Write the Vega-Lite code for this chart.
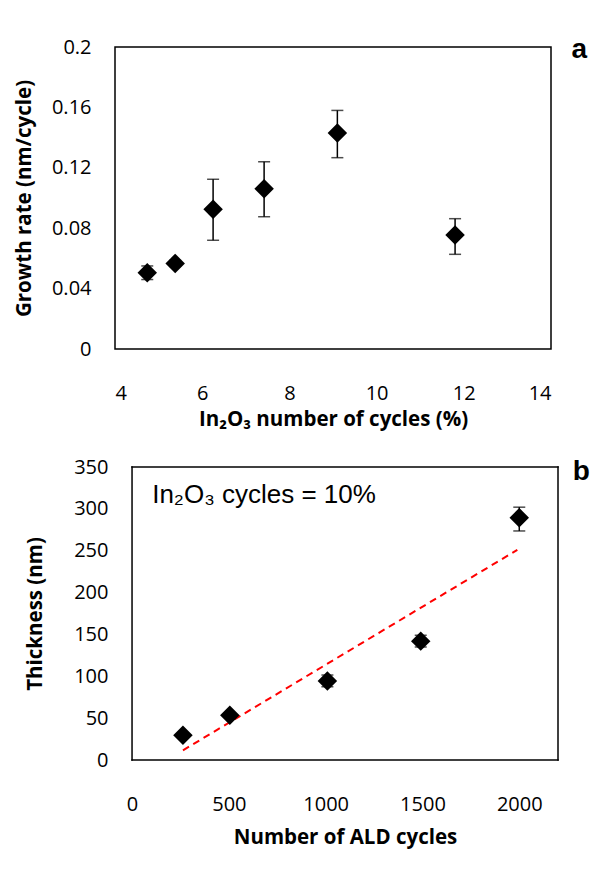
{
  "$schema": "https://vega.github.io/schema/vega-lite/v6.json",
  "background": "white",
  "padding": {"left": 13, "top": 34, "right": 5, "bottom": 5},
  "spacing": 26,
  "config": {
    "view": {"stroke": "#000", "strokeWidth": 1.5},
    "axis": {
      "grid": false, "ticks": false, "tickSize": 0, "domain": false,
      "labelFont": "Open Sans", "labelFontSize": 20, "labelColor": "#000",
      "titleFont": "Open Sans", "titleFontSize": 20.5, "titleFontWeight": "bold", "titleColor": "#000"
    }
  },
  "vconcat": [
    {
      "width": 436,
      "height": 302,
      "data": {"values": [
        {"pct": 4.74, "rate": 0.0505, "lo": 0.046, "hi": 0.055},
        {"pct": 5.38, "rate": 0.0567, "lo": 0.0547, "hi": 0.0587},
        {"pct": 6.25, "rate": 0.0925, "lo": 0.072, "hi": 0.1124},
        {"pct": 7.42, "rate": 0.1062, "lo": 0.0876, "hi": 0.124},
        {"pct": 9.10, "rate": 0.143, "lo": 0.1267, "hi": 0.158},
        {"pct": 11.80, "rate": 0.0755, "lo": 0.0627, "hi": 0.0863}
      ]},
      "layer": [
        {
          "mark": {"type": "rule", "color": "#000", "strokeWidth": 1.5},
          "encoding": {
            "x": {"field": "pct", "type": "quantitative", "title": "In₂O₃ number of cycles (%)",
                  "scale": {"domain": [4, 14], "nice": false, "zero": false},
                  "axis": {"values": [4, 6, 8, 10, 12, 14], "labelPadding": 34, "titlePadding": 6}},
            "y": {"field": "lo", "type": "quantitative", "title": "Growth rate (nm/cycle)",
                  "scale": {"domain": [0, 0.2], "nice": false},
                  "axis": {"values": [0, 0.04, 0.08, 0.12, 0.16, 0.2], "format": "~g", "labelPadding": 24, "titlePadding": 17}},
            "y2": {"field": "hi"}
          }
        },
        {
          "mark": {"type": "tick", "orient": "horizontal", "color": "#000", "size": 12, "thickness": 1.5},
          "encoding": {
            "x": {"field": "pct", "type": "quantitative", "title": "In₂O₃ number of cycles (%)"},
            "y": {"field": "lo", "type": "quantitative", "title": "Growth rate (nm/cycle)"}
          }
        },
        {
          "mark": {"type": "tick", "orient": "horizontal", "color": "#000", "size": 12, "thickness": 1.5},
          "encoding": {
            "x": {"field": "pct", "type": "quantitative", "title": "In₂O₃ number of cycles (%)"},
            "y": {"field": "hi", "type": "quantitative", "title": "Growth rate (nm/cycle)"}
          }
        },
        {
          "mark": {"type": "point", "shape": "diamond", "filled": true, "color": "#000", "opacity": 1, "size": 380},
          "encoding": {
            "x": {"field": "pct", "type": "quantitative", "title": "In₂O₃ number of cycles (%)"},
            "y": {"field": "rate", "type": "quantitative", "title": "Growth rate (nm/cycle)"}
          }
        },
        {
          "data": {"values": [{"label": "a"}]},
          "mark": {"type": "text", "font": "Liberation Sans", "fontSize": 28, "fontWeight": "bold", "color": "#000", "align": "center", "baseline": "alphabetic"},
          "encoding": {
            "text": {"field": "label"},
            "x": {"datum": 14.65, "type": "quantitative"},
            "y": {"datum": 0.1929, "type": "quantitative"}
          }
        }
      ]
    },
    {
      "width": 443,
      "height": 293,
      "view": {"stroke": null},
      "data": {"values": [
        {"cycles": 263, "thick": 29.5, "lo": 27.5, "hi": 31.5},
        {"cycles": 505, "thick": 53.4, "lo": 51.4, "hi": 55.4},
        {"cycles": 1009, "thick": 94.4, "lo": 87.5, "hi": 101.5},
        {"cycles": 1491, "thick": 142, "lo": 135, "hi": 149},
        {"cycles": 2000, "thick": 289.5, "lo": 273.6, "hi": 302}
      ]},
      "layer": [
        {
          "data": {"values": [{"cycles": 263, "fit": 11.6}, {"cycles": 1990, "fit": 251}]},
          "mark": {"type": "line", "color": "#ff0000", "strokeWidth": 2, "strokeDash": [7, 5]},
          "encoding": {
            "x": {"field": "cycles", "type": "quantitative", "title": "Number of ALD cycles",
                  "scale": {"domain": [-88, 2200], "nice": false, "zero": false},
                  "axis": {"values": [0, 500, 1000, 1500, 2000], "format": "d", "labelPadding": 34, "titlePadding": 13, "titleX": 230}},
            "y": {"field": "fit", "type": "quantitative", "title": "Thickness (nm)",
                  "scale": {"domain": [0, 350], "nice": false},
                  "axis": {"values": [0, 50, 100, 150, 200, 250, 300, 350], "format": "d", "labelPadding": 7, "titlePadding": 28}}
          }
        },
        {
          "data": {"values": [{}]},
          "mark": {"type": "rule", "color": "#000", "strokeWidth": 1.5, "strokeCap": "square"},
          "encoding": {"x": {"datum": 0, "type": "quantitative"}, "y": {"datum": 0, "type": "quantitative"}, "y2": {"datum": 350}}
        },
        {
          "data": {"values": [{}]},
          "mark": {"type": "rule", "color": "#000", "strokeWidth": 1.5, "strokeCap": "square"},
          "encoding": {"x": {"datum": 2200, "type": "quantitative"}, "y": {"datum": 0, "type": "quantitative"}, "y2": {"datum": 350}}
        },
        {
          "data": {"values": [{}]},
          "mark": {"type": "rule", "color": "#000", "strokeWidth": 1.5, "strokeCap": "square"},
          "encoding": {"y": {"datum": 0, "type": "quantitative"}, "x": {"datum": 0, "type": "quantitative"}, "x2": {"datum": 2200}}
        },
        {
          "data": {"values": [{}]},
          "mark": {"type": "rule", "color": "#000", "strokeWidth": 1.5, "strokeCap": "square"},
          "encoding": {"y": {"datum": 350, "type": "quantitative"}, "x": {"datum": 0, "type": "quantitative"}, "x2": {"datum": 2200}}
        },
        {
          "mark": {"type": "rule", "color": "#000", "strokeWidth": 1.5},
          "encoding": {
            "x": {"field": "cycles", "type": "quantitative", "title": "Number of ALD cycles"},
            "y": {"field": "lo", "type": "quantitative", "title": "Thickness (nm)"},
            "y2": {"field": "hi"}
          }
        },
        {
          "mark": {"type": "tick", "orient": "horizontal", "color": "#000", "size": 12, "thickness": 1.5},
          "encoding": {
            "x": {"field": "cycles", "type": "quantitative", "title": "Number of ALD cycles"},
            "y": {"field": "lo", "type": "quantitative", "title": "Thickness (nm)"}
          }
        },
        {
          "mark": {"type": "tick", "orient": "horizontal", "color": "#000", "size": 12, "thickness": 1.5},
          "encoding": {
            "x": {"field": "cycles", "type": "quantitative", "title": "Number of ALD cycles"},
            "y": {"field": "hi", "type": "quantitative", "title": "Thickness (nm)"}
          }
        },
        {
          "mark": {"type": "point", "shape": "diamond", "filled": true, "color": "#000", "opacity": 1, "size": 380},
          "encoding": {
            "x": {"field": "cycles", "type": "quantitative", "title": "Number of ALD cycles"},
            "y": {"field": "thick", "type": "quantitative", "title": "Thickness (nm)"}
          }
        },
        {
          "data": {"values": [{"label": "In₂O₃ cycles = 10%"}]},
          "mark": {"type": "text", "font": "Liberation Sans", "fontSize": 26, "color": "#000", "align": "left", "baseline": "alphabetic"},
          "encoding": {
            "text": {"field": "label"},
            "x": {"datum": 104, "type": "quantitative"},
            "y": {"datum": 307, "type": "quantitative"}
          }
        },
        {
          "data": {"values": [{"label": "b"}]},
          "mark": {"type": "text", "font": "Liberation Sans", "fontSize": 28, "fontWeight": "bold", "color": "#000", "align": "center", "baseline": "alphabetic"},
          "encoding": {
            "text": {"field": "label"},
            "x": {"datum": 2320, "type": "quantitative"},
            "y": {"datum": 334.5, "type": "quantitative"}
          }
        }
      ]
    }
  ]
}
